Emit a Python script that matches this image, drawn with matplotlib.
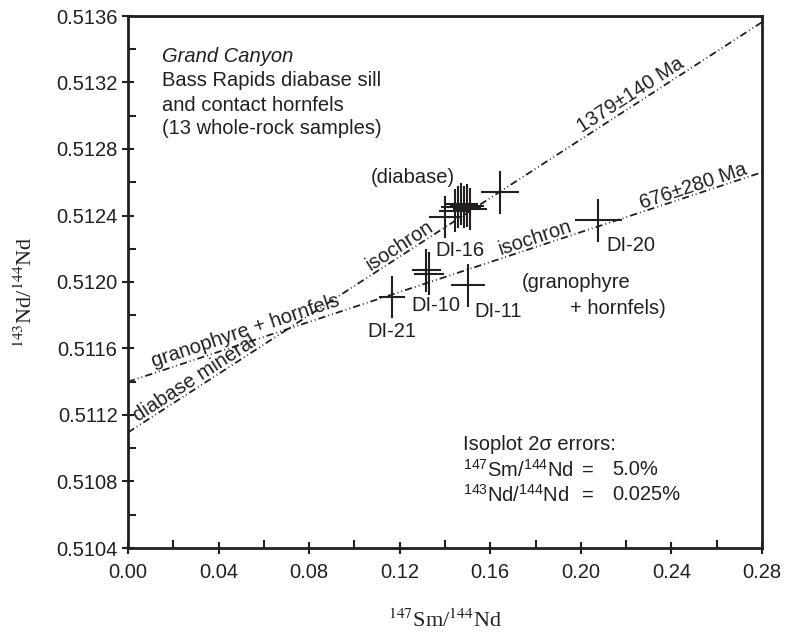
import matplotlib
matplotlib.use('Agg')
import matplotlib.pyplot as plt
import numpy as np

# sample values
samples = ['DI-21', 'DI-10', 'DI-10', 'DI-11', 'DI-20',
           'DI-16', 'dia2', 'dia3', 'dia4', 'dia5', 'dia6', 'dia7', 'dia8']
sm_nd = [0.1165, 0.1318, 0.1330, 0.1503, 0.2077,
         0.1400, 0.1444, 0.1457, 0.1471, 0.1484, 0.1497, 0.1510, 0.1643]
nd_nd = [0.51191, 0.51207, 0.51205, 0.51198, 0.51237,
         0.51239, 0.51243, 0.51245, 0.51247, 0.51245, 0.51246, 0.51244, 0.51254]

# Isoplot 2 sigma errors (from the box in the chart)
sm_err_pct = 5.0
nd_err_pct = 0.025

# isochron end points
iso_x = [0.0, 0.28]
iso_diabase = [0.511095, 0.513563]   # 1379 Ma
iso_granophyre = [0.51140, 0.51266]  # 676 Ma

x_ticks = [0.00, 0.04, 0.08, 0.12, 0.16, 0.20, 0.24, 0.28]
y_ticks = [0.5104, 0.5108, 0.5112, 0.5116, 0.5120, 0.5124, 0.5128, 0.5132, 0.5136]

ink = '#231f20'
plt.rcParams['font.family'] = ['Liberation Sans', 'DejaVu Sans']
plt.rcParams['mathtext.fontset'] = 'custom'
plt.rcParams['mathtext.rm'] = 'Liberation Sans'
plt.rcParams['mathtext.it'] = 'Liberation Sans:italic'

fig = plt.figure(figsize=(7.86, 6.33), dpi=100)
ax = fig.add_axes([128/786, 1-548/633, 634/786, 532/633])

dash = (0, (4, 1.7, 0.5, 1.7, 0.5, 1.7))
ax.plot(iso_x, iso_diabase, color=ink, lw=1.3, linestyle=dash)
ax.plot(iso_x, iso_granophyre, color=ink, lw=1.3, linestyle=dash)

xs = np.array(sm_nd)
ys = np.array(nd_nd)
ax.errorbar(xs, ys, xerr=xs*sm_err_pct/100, yerr=ys*nd_err_pct/100,
            fmt='none', ecolor=ink, elinewidth=1.5, capsize=0)

ax.set_xlim(0, 0.28)
ax.set_ylim(0.5104, 0.5136)
ax.set_xticks(x_ticks)
ax.set_xticklabels(['%.2f' % v for v in x_ticks])
ax.set_yticks(y_ticks)
ax.set_yticklabels(['%.4f' % v for v in y_ticks])
ax.set_xticks(np.arange(0.02, 0.28, 0.04), minor=True)
ax.set_yticks(np.arange(0.5106, 0.5136, 0.0004), minor=True)
ax.tick_params(which='major', direction='inout', length=9, width=1.5,
               labelsize=14.5, colors=ink, pad=3)
ax.tick_params(axis='x', which='major', pad=6)
ax.tick_params(which='minor', direction='in', length=5.5, width=1.5, colors=ink)
for s in ax.spines.values():
    s.set_linewidth(2)
    s.set_color(ink)

ax.set_xlabel(r'$^{147}$Sm/$^{144}$Nd', fontsize=16, color=ink,
              family='Liberation Serif', math_fontfamily='stix')
ax.set_ylabel(r'$^{143}$Nd/$^{144}$Nd', fontsize=16, color=ink,
              family='Liberation Serif', math_fontfamily='stix')
ax.xaxis.set_label_coords(0.5, -0.115)
ax.yaxis.set_label_coords(-0.143, 0.48)

fs = 14.5
tr = ax.transAxes
ax.text(0.0536, 0.9248, 'Grand Canyon', style='italic', fontsize=fs, color=ink,
        transform=tr, va='center')
ax.text(0.0536, 0.8788, 'Bass Rapids diabase sill', fontsize=fs, color=ink,
        transform=tr, va='center')
ax.text(0.0536, 0.8327, 'and contact hornfels', fontsize=fs, color=ink,
        transform=tr, va='center')
ax.text(0.0536, 0.7885, '(13 whole-rock samples)', fontsize=fs, color=ink,
        transform=tr, va='center')

# sample labels
ax.text(0.1166, 0.51170, 'DI-21', fontsize=fs, color=ink, ha='center', va='center')
ax.text(0.1360, 0.51186, 'DI-10', fontsize=fs, color=ink, ha='center', va='center')
ax.text(0.1634, 0.51182, 'DI-11', fontsize=fs, color=ink, ha='center', va='center')
ax.text(0.1466, 0.51219, 'DI-16', fontsize=fs, color=ink, ha='center', va='center')
ax.text(0.2221, 0.51222, 'DI-20', fontsize=fs, color=ink, ha='center', va='center')
ax.text(0.1259, 0.51263, '(diabase)', fontsize=fs, color=ink, ha='center', va='center')
ax.text(0.1740, 0.511994, '(granophyre', fontsize=fs, color=ink, va='center')
ax.text(0.1952, 0.511838, '+ hornfels)', fontsize=fs, color=ink, va='center')

# isochron labels
ang_a = 32.9
ang_b = 18.3
ax.text(0.0296, 0.511417, 'diabase mineral', fontsize=fs, color=ink, rotation=ang_a,
        ha='center', va='center', rotation_mode='anchor')
ax.text(0.0521, 0.511705, 'granophyre + hornfels', fontsize=fs, color=ink, rotation=ang_b,
        ha='center', va='center', rotation_mode='anchor')
ax.text(0.1201, 0.51222, 'isochron', fontsize=fs, color=ink, rotation=ang_a,
        ha='center', va='center', rotation_mode='anchor')
ax.text(0.1797, 0.512265, 'isochron', fontsize=fs, color=ink, rotation=ang_b,
        ha='center', va='center', rotation_mode='anchor')
ax.text(0.2221, 0.513125, '1379\u00b1140 Ma', fontsize=fs, color=ink, rotation=ang_a,
        ha='center', va='center', rotation_mode='anchor')
ax.text(0.2495, 0.512577, '676\u00b1280 Ma', fontsize=fs, color=ink, rotation=ang_b,
        ha='center', va='center', rotation_mode='anchor')

# error box
ax.text(0.1478, 0.51102, 'Isoplot 2\u03c3 errors:', fontsize=fs, color=ink, va='center')
ax.text(0.1478, 0.51087, r'$^{147}$Sm/$^{144}$Nd', fontsize=fs, color=ink, va='center')
ax.text(0.1478, 0.51072, r'$^{143}$Nd/$^{144}$Nd', fontsize=fs, color=ink, va='center')
ax.text(0.2032, 0.51087, '=', fontsize=fs, color=ink, va='center', ha='center')
ax.text(0.2032, 0.51072, '=', fontsize=fs, color=ink, va='center', ha='center')
ax.text(0.2137, 0.51087, '5.0%', fontsize=fs, color=ink, va='center')
ax.text(0.2137, 0.51072, '0.025%', fontsize=fs, color=ink, va='center')

fig.savefig('out.png', dpi=100)
